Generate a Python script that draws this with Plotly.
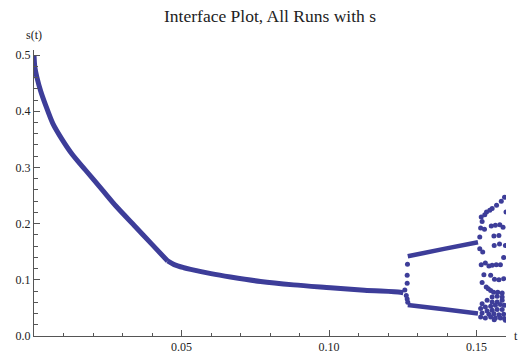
import plotly.graph_objects as go

# Interface position s(t): single front before the kink ...
early_t = [0, 0.0003, 0.001, 0.0022, 0.0040, 0.0064, 0.0095, 0.013, 0.0175, 0.023,
           0.028, 0.0343, 0.040, 0.0453]
early_s = [0.500, 0.478, 0.460, 0.437, 0.410, 0.378, 0.350, 0.323, 0.295, 0.261,
           0.230, 0.195, 0.163, 0.1335]
# ... and after the kink, up to the split
late_t = [0.0453, 0.0475, 0.0508, 0.0531, 0.060, 0.0666, 0.0768, 0.088, 0.1005, 0.112,
          0.1242, 0.1252]
late_s = [0.1335, 0.127, 0.1215, 0.1185, 0.111, 0.105, 0.097, 0.091, 0.086, 0.0815,
          0.078, 0.077]

# Upper and lower fronts after the split
upper_t = [0.1267, 0.1390, 0.1505]
upper_s = [0.1418, 0.1550, 0.1670]
lower_t = [0.1267, 0.1390, 0.1505]
lower_s = [0.0550, 0.0475, 0.0400]

# Isolated points: the split stem and the late-time scatter
dots_t = [0.1257, 0.1265, 0.1265, 0.1266, 0.1262, 0.1265, 0.1267,
          0.1511, 0.1511, 0.1521,
          0.1595, 0.1584, 0.1568, 0.1553, 0.1545, 0.1534, 0.1528, 0.1516, 0.1519, 0.1600,
          0.1514, 0.1527, 0.1550, 0.1564, 0.1579, 0.1590, 0.1559, 0.1576, 0.1560, 0.1578, 0.1598,
          0.1592, 0.1516, 0.1530, 0.1542, 0.1553, 0.1567, 0.1581, 0.1525, 0.1548, 0.1561,
          0.1576, 0.1592, 0.1519, 0.1533, 0.1548, 0.1540, 0.1558, 0.1572, 0.1587, 0.1570,
          0.1587, 0.1553, 0.1536, 0.1519, 0.1553, 0.1570, 0.1587, 0.1581, 0.1564, 0.1548,
          0.1530, 0.1514, 0.1594, 0.1536, 0.1553, 0.1570, 0.1587, 0.1519, 0.1542, 0.1559,
          0.1576, 0.1592, 0.1514, 0.1530, 0.1548, 0.1564, 0.1581, 0.1595, 0.1598, 0.1560]
dots_s = [0.082, 0.094, 0.108, 0.1276, 0.072, 0.066, 0.060,
          0.176, 0.1555, 0.1495,
          0.247, 0.240, 0.2326, 0.2267, 0.2237, 0.2206, 0.216, 0.2117, 0.204, 0.2206,
          0.192, 0.190, 0.1957, 0.197, 0.198, 0.1934, 0.178, 0.179, 0.161, 0.1637, 0.161,
          0.1395, 0.127, 0.130, 0.1246, 0.1258, 0.127, 0.127, 0.109, 0.108, 0.101,
          0.100, 0.102, 0.095, 0.087, 0.081, 0.084, 0.078, 0.078, 0.0765, 0.0706,
          0.0694, 0.0694, 0.0635, 0.0576, 0.0605, 0.0605, 0.0635, 0.0559, 0.0546, 0.0528,
          0.0516, 0.0488, 0.0546, 0.0445, 0.0457, 0.047, 0.047, 0.041, 0.0386, 0.0398,
          0.038, 0.0386, 0.0338, 0.032, 0.0338, 0.032, 0.032, 0.031, 0.028, 0.029]

x_ticks = [0.05, 0.10, 0.15]
x_tick_text = ["0.05", "0.10", "0.15"]
y_ticks = [0.0, 0.1, 0.2, 0.3, 0.4, 0.5]
y_tick_text = ["0.0", "0.1", "0.2", "0.3", "0.4", "0.5"]

color = "#3d3d99"
serif = "Liberation Serif"

fig = go.Figure()
for tt, ss, w in [(early_t, early_s, 5), (late_t, late_s, 5),
                  (upper_t, upper_s, 4.5), (lower_t, lower_s, 4.5)]:
    fig.add_trace(go.Scatter(x=tt, y=ss, mode="lines",
                             line=dict(color=color, width=w, shape="spline", smoothing=0.8),
                             hoverinfo="skip"))
fig.add_trace(go.Scatter(x=dots_t, y=dots_s, mode="markers",
                         marker=dict(color=color, size=5, line=dict(width=0)),
                         hoverinfo="skip"))

axis_common = dict(showgrid=False, zeroline=False, showline=True, automargin=False,
                   linecolor="#555555", linewidth=1, ticks="inside",
                   tickcolor="#555555", tickwidth=1, ticklen=6,
                   tickfont=dict(family=serif, size=12, color="#222222"))

fig.update_layout(
    width=520, height=354,
    margin=dict(l=34, r=14, t=50, b=18),
    paper_bgcolor="white", plot_bgcolor="white",
    showlegend=False,
    title=dict(text="Interface Plot, All Runs with s", x=0.5, xref="paper",
               y=0.955, yanchor="middle",
               font=dict(family=serif, size=17.5, color="#222222")),
    xaxis=dict(range=[0, 0.16], tickvals=x_ticks, ticktext=x_tick_text,
               minor=dict(dtick=0.01, tick0=0, ticks="inside", ticklen=3.5,
                          tickcolor="#555555", tickwidth=1),
               **axis_common),
    yaxis=dict(range=[0, 0.509], tickvals=y_ticks, ticktext=y_tick_text,
               minor=dict(dtick=0.02, tick0=0, ticks="inside", ticklen=3.5,
                          tickcolor="#555555", tickwidth=1),
               **axis_common),
    annotations=[
        dict(text="s(t)", xref="paper", yref="paper", x=0, y=1, xanchor="center",
             yanchor="bottom", yshift=6, showarrow=False,
             font=dict(family=serif, size=12, color="#222222")),
        dict(text="t", xref="paper", yref="paper", x=1, y=0, xanchor="left",
             yanchor="middle", xshift=6, showarrow=False,
             font=dict(family=serif, size=12, color="#222222")),
    ],
)

fig.write_html("out.html")
